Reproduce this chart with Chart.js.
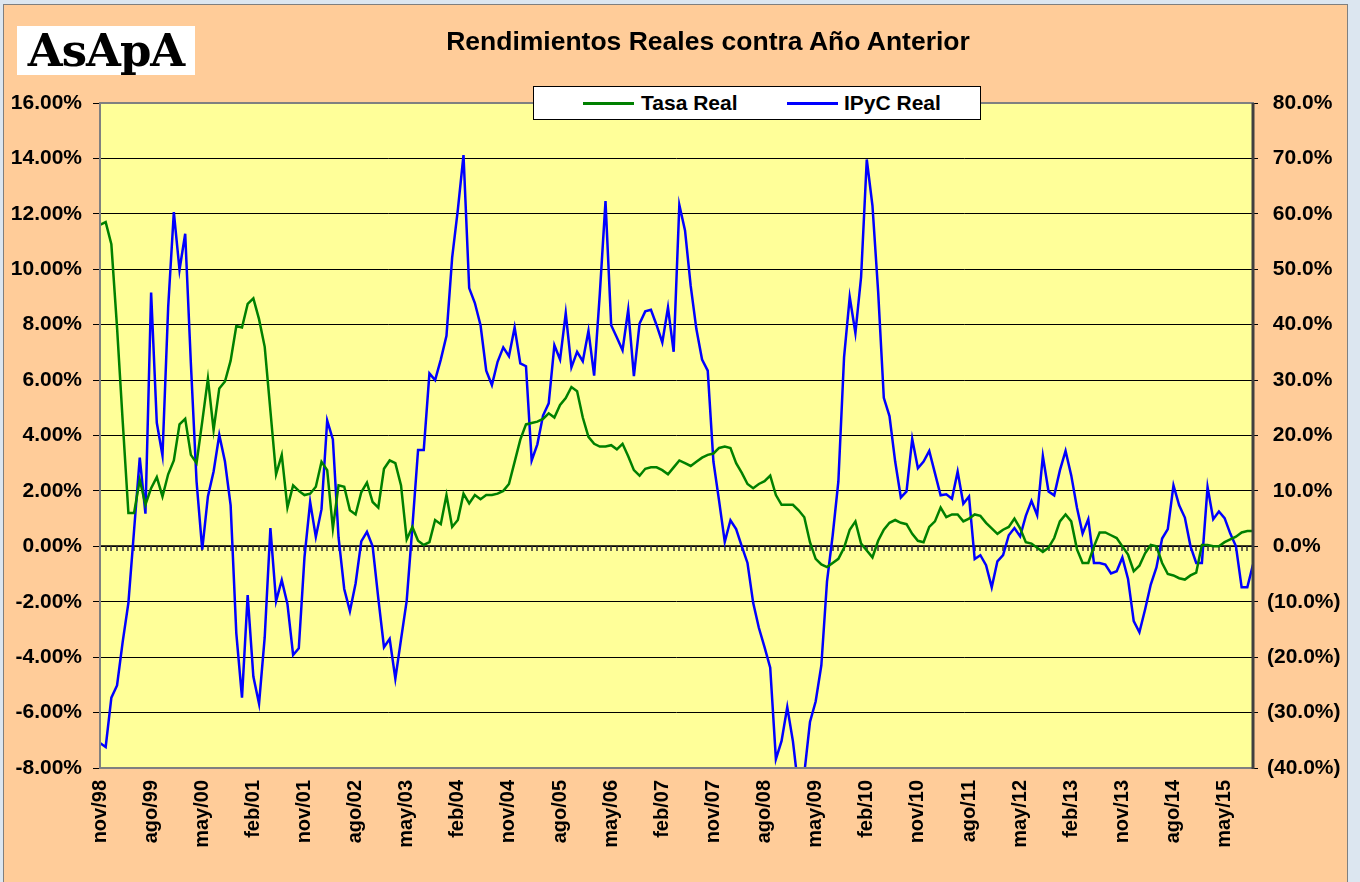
<!DOCTYPE html>
<html>
<head>
<meta charset="utf-8">
<script src="https://cdn.jsdelivr.net/npm/chart.js@4.4.1/dist/chart.umd.min.js"></script>
<style>
  body { margin: 0; background: #DCE6F0; }
  #wrap { position: relative; width: 1360px; height: 882px; overflow: hidden; }
  #panel { position: absolute; left: 3px; top: 4px; width: 1343px; height: 880px;
           background: #FFCC99; border: 1px solid #7F7F7F; }
  #grafico { position: absolute; left: 0; top: 0; }
  #logo { position: absolute; left: 17px; top: 26px; width: 178px; height: 49px; background: #fff;
          font: bold 45px "DejaVu Serif", serif; color: #000; line-height: 49px; text-align: center;
          letter-spacing: -1px; }
  #titulo { position: absolute; left: 708px; top: 26px; transform: translateX(-50%); white-space: nowrap;
            font: bold 26.5px "Liberation Sans", Arial, sans-serif; color: #000; }
  #leyenda { position: absolute; left: 533px; top: 86px; width: 446px; height: 32px; background: #fff;
             border: 1px solid #000; font: bold 21px "Liberation Sans", Arial, sans-serif; }
  #leyenda .l { position: absolute; top: 15px; height: 3px; width: 51px; }
  #leyenda .t { position: absolute; top: 5px; line-height: 22px; }
</style>
</head>
<body>
<div id="wrap">
  <div id="panel"></div>
  <canvas id="grafico" width="1360" height="882"></canvas>
  <div id="logo">AsApA</div>
  <div id="titulo">Rendimientos Reales contra Año Anterior</div>
  <div id="leyenda">
    <span class="l" style="left:49px;background:#008000"></span><span class="t" style="left:107px">Tasa Real</span>
    <span class="l" style="left:253px;background:#0000FF"></span><span class="t" style="left:310px">IPyC Real</span>
  </div>
</div>
<script>
// Meses: nov/98 a oct/15
const mesesAbr = ['ene', 'feb', 'mar', 'abr', 'may', 'jun', 'jul', 'ago', 'sep', 'oct', 'nov', 'dic'];
const etiquetas = [];
for (let k = 10; k < 10 + 204; k++) {
    const anio = (1998 + Math.floor(k / 12)) % 100;
    etiquetas.push(mesesAbr[k % 12] + '/' + String(anio).padStart(2, '0'));
}

// Tasa Real (%), eje izquierdo
const tasaReal = [
    11.6, 11.7, 10.9, 7.9, 4.5, 1.2, 1.2, 2.4, 1.5, 2.1, 2.5, 1.8,
    2.6, 3.1, 4.4, 4.6, 3.3, 3.0, 4.5, 6.05, 4.2, 5.7, 5.95, 6.7,
    7.95, 7.9, 8.75, 8.95, 8.2, 7.2, 4.9, 2.6, 3.3, 1.4, 2.2, 2.0,
    1.85, 1.9, 2.15, 3.05, 2.75, 0.65, 2.2, 2.15, 1.3, 1.15, 1.95, 2.3,
    1.6, 1.4, 2.8, 3.1, 3.0, 2.2, 0.25, 0.7, 0.2, 0.05, 0.15, 0.95,
    0.8, 1.85, 0.7, 0.95, 1.9, 1.55, 1.85, 1.7, 1.85, 1.85, 1.9, 2.0,
    2.25, 3.05, 3.85, 4.4, 4.45, 4.5, 4.6, 4.8, 4.65, 5.1, 5.35, 5.75,
    5.6, 4.65, 3.95, 3.7, 3.6, 3.6, 3.65, 3.5, 3.7, 3.25, 2.75, 2.55,
    2.8, 2.85, 2.85, 2.75, 2.6, 2.85, 3.1, 3.0, 2.9, 3.05, 3.2, 3.3,
    3.35, 3.55, 3.6, 3.55, 3.0, 2.65, 2.25, 2.1, 2.25, 2.35, 2.55, 1.85,
    1.5, 1.5, 1.5, 1.3, 1.05, 0.15, -0.45, -0.65, -0.75, -0.6, -0.45, -0.05,
    0.6, 0.9, 0.1, -0.15, -0.4, 0.2, 0.6, 0.85, 0.95, 0.85, 0.8, 0.45,
    0.2, 0.15, 0.7, 0.9, 1.4, 1.05, 1.15, 1.15, 0.9, 1.0, 1.15, 1.1,
    0.85, 0.65, 0.45, 0.6, 0.7, 1.0, 0.65, 0.15, 0.1, -0.05, -0.2, -0.05,
    0.3, 0.9, 1.15, 0.9, -0.1, -0.6, -0.6, 0.0, 0.5, 0.5, 0.4, 0.3,
    0.0, -0.3, -0.9, -0.7, -0.25, 0.05, 0.0, -0.6, -1.0, -1.05, -1.15, -1.2,
    -1.05, -0.95, 0.05, 0.05, 0.0, 0.0, 0.15, 0.25, 0.35, 0.5, 0.55, 0.55
];

// IPyC Real (%), eje derecho
const ipycReal = [
    -35.5, -36.2, -27.3, -25.1, -17.2, -10.2, 2.9, 16.0, 5.9, 45.8, 22.3, 16.4,
    43.1, 60.3, 49.9, 56.4, 33.0, 11.7, -0.6, 9.0, 13.5, 20.1, 15.3, 7.4,
    -15.7, -27.3, -8.8, -23.5, -28.4, -16.4, 3.3, -9.9, -6.1, -10.4, -19.6, -18.4,
    -2.0, 8.0, 1.7, 6.7, 22.7, 19.3, 1.6, -7.7, -11.7, -6.7, 0.9, 2.6,
    0.0, -9.4, -18.2, -16.7, -23.9, -16.8, -9.8, 3.5, 17.4, 17.4, 31.2, 30.0,
    33.7, 38.0, 52.1, 60.7, 70.6, 46.6, 43.9, 39.9, 31.7, 29.1, 33.3, 35.9,
    34.3, 39.5, 33.0, 32.5, 15.5, 18.4, 23.6, 25.8, 36.3, 33.7, 42.1, 32.3,
    35.1, 33.4, 38.9, 30.8, 45.6, 62.3, 39.9, 37.7, 35.4, 42.7, 30.7, 40.2,
    42.4, 42.7, 39.9, 36.8, 43.1, 35.1, 61.6, 57.0, 47.0, 39.2, 33.7, 31.7,
    15.3, 8.2, 0.8, 4.7, 3.1, 0.0, -3.0, -10.2, -14.7, -18.2, -21.9, -38.4,
    -35.1, -29.0, -35.2, -44.0, -41.0, -31.7, -28.0, -21.5, -6.3, 2.0, 11.7, 34.1,
    45.0, 38.5, 48.6, 69.8, 61.5, 46.0, 26.8, 23.5, 15.3, 8.8, 9.9, 19.4,
    14.1, 15.3, 17.2, 13.2, 9.2, 9.4, 8.6, 13.5, 7.7, 9.0, -2.3, -1.6,
    -3.4, -7.4, -2.7, -1.6, 2.0, 3.3, 1.8, 5.5, 8.2, 5.6, 16.3, 9.9,
    9.2, 13.7, 17.2, 12.8, 7.0, 2.3, 4.9, -3.0, -3.0, -3.3, -4.9, -4.5,
    -2.0, -5.9, -13.5, -15.5, -11.4, -6.9, -3.8, 1.4, 3.1, 11.0, 7.4, 5.2,
    0.0, -3.0, -3.0, 10.7, 4.9, 6.3, 5.1, 2.3, 0.0, -7.4, -7.4, -3.3
];

const fuenteX = { family: '"Liberation Sans", Arial, sans-serif', size: 20, weight: 'bold' };
const fuenteY = { family: '"Liberation Sans", Arial, sans-serif', size: 21, weight: 'bold' };

// fondo amarillo, linea de cero con marcas mensuales y borde del area
const decoracion = {
    id: 'decoracion',
    beforeDraw(chart) {
        const { ctx, chartArea: a } = chart;
        ctx.save();
        ctx.fillStyle = '#FFFF99';
        ctx.fillRect(a.left, a.top, a.right - a.left, a.bottom - a.top);
        ctx.restore();
    },
    beforeDatasetsDraw(chart) {
        const { ctx, chartArea: a, scales } = chart;
        const y0 = Math.round(scales.y.getPixelForValue(0));
        ctx.save();
        ctx.strokeStyle = '#000';
        ctx.lineWidth = 1.5;
        ctx.beginPath();
        ctx.moveTo(a.left, y0);
        ctx.lineTo(a.right, y0);
        ctx.stroke();
        ctx.strokeStyle = '#333';
        ctx.beginPath();
        for (let i = 1; i < etiquetas.length; i++) {
            const x = Math.round(scales.x.getPixelForValue(i));
            ctx.moveTo(x, y0);
            ctx.lineTo(x, y0 + 5);
        }
        ctx.stroke();
        ctx.restore();
    },
    afterDatasetsDraw(chart) {
        const { ctx, chartArea: a } = chart;
        ctx.save();
        ctx.strokeStyle = '#808080';
        ctx.lineWidth = 2;
        ctx.strokeRect(a.left, a.top, a.right - a.left, a.bottom - a.top);
        ctx.strokeStyle = '#404040';
        ctx.lineWidth = 3;
        ctx.beginPath();
        ctx.moveTo(a.right, a.top);
        ctx.lineTo(a.right, a.bottom + 1);
        ctx.stroke();
        ctx.restore();
    }
};

new Chart(document.getElementById('grafico'), {
    type: 'line',
    data: {
        labels: etiquetas,
        datasets: [{
            label: 'Tasa Real',
            data: tasaReal,
            yAxisID: 'y',
            borderColor: '#008000',
            borderWidth: 2.5,
            pointRadius: 0,
            tension: 0
        }, {
            label: 'IPyC Real',
            data: ipycReal,
            yAxisID: 'y1',
            borderColor: '#0000FF',
            borderWidth: 2.5,
            pointRadius: 0,
            tension: 0
        }]
    },
    options: {
        responsive: false,
        animation: false,
        events: [],
        layout: { padding: { top: 103, left: 0, right: 0, bottom: 0 } },
        plugins: {
            legend: { display: false },
            tooltip: { enabled: false }
        },
        scales: {
            x: {
                grid: { display: false, drawTicks: false },
                border: { display: false },
                ticks: {
                    autoSkip: false,
                    maxRotation: 90,
                    minRotation: 90,
                    padding: 12,
                    color: '#000',
                    font: fuenteX,
                    callback: function(value, index) {
                        return index % 9 === 0 ? etiquetas[index] : '';
                    }
                },
                afterFit: function(scale) { scale.height = 114; }
            },
            y: {
                position: 'left',
                min: -8,
                max: 16,
                border: { display: false },
                grid: { color: '#000', lineWidth: 1, tickLength: 7 },
                ticks: {
                    stepSize: 2,
                    padding: 11,
                    color: '#000',
                    font: fuenteY,
                    callback: function(value) {
                        return value.toFixed(2) + '%';
                    }
                },
                afterFit: function(scale) { scale.width = 100; }
            },
            y1: {
                position: 'right',
                min: -40,
                max: 80,
                border: { display: false },
                grid: { drawOnChartArea: false, color: '#000', lineWidth: 1, tickLength: 5 },
                ticks: {
                    stepSize: 10,
                    padding: 9,
                    color: '#000',
                    font: fuenteY,
                    callback: function(value) {
                        if (value < 0) return '(' + Math.abs(value).toFixed(1) + '%)';
                        return '\u2008' + value.toFixed(1) + '%';
                    }
                },
                afterFit: function(scale) { scale.width = 107; }
            }
        }
    },
    plugins: [decoracion]
});
</script>
</body>
</html>
